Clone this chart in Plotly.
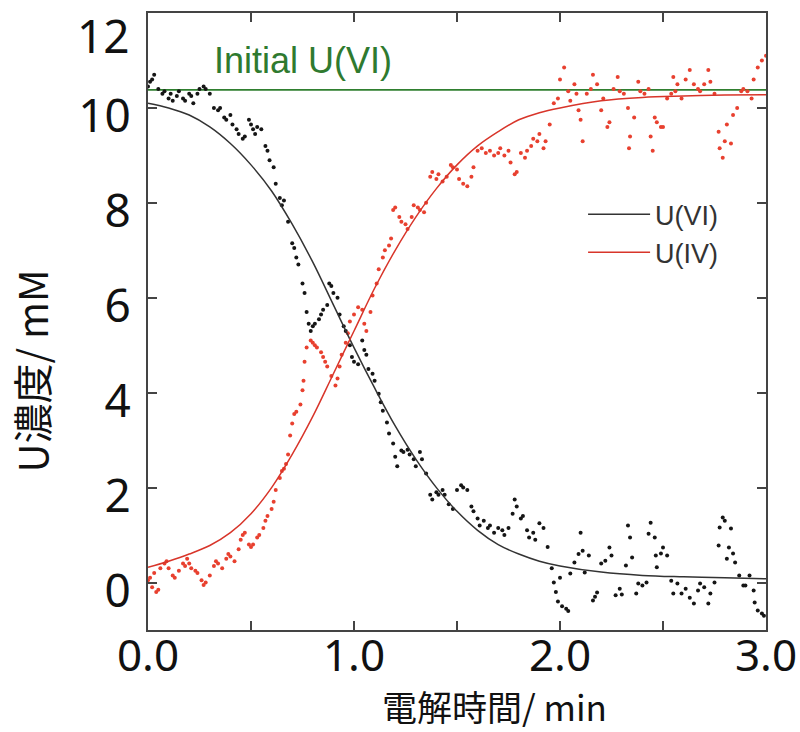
import plotly.graph_objects as go

# ---------------- data ----------------
BLACK_T = [0.00,0.01,0.02,0.03,0.05,0.07,0.08,0.10,0.11,0.12,0.14,0.15,0.17,0.18,0.20,0.21,0.22,0.24,0.25,0.27,
           0.28,0.30,0.32,0.34,0.35,0.37,0.38,0.40,0.41,0.43,0.44,0.46,0.47,0.49,0.50,0.51,0.52,0.53,0.55,0.57,
           0.58,0.59,0.61,0.62,0.64,0.65,0.66,0.68,0.70,0.71,0.72,0.73,0.75,0.76,0.77,0.78,0.79,0.80,0.81,0.83,
           0.84,0.85,0.87,0.88,0.89,0.90,0.92,0.93,0.95,0.96,0.98,0.99,1.00,1.02,1.04,1.05,1.06,1.07,1.09,1.10,
           1.12,1.13,1.14,1.16,1.17,1.19,1.20,1.21,1.23,1.24,1.26,1.27,1.29,1.30,1.32,1.33,1.35,1.37,1.38,1.40,
           1.41,1.43,1.44,1.46,1.48,1.50,1.52,1.53,1.55,1.57,1.58,1.60,1.61,1.63,1.65,1.66,1.68,1.70,1.72,1.73,
           1.75,1.77,1.78,1.79,1.81,1.82,1.84,1.85,1.87,1.88,1.90,1.92,1.94,1.96,1.97,1.98,1.99,2.00,2.01,2.03,
           2.04,2.05,2.07,2.09,2.10,2.11,2.12,2.14,2.16,2.17,2.18,2.20,2.22,2.24,2.25,2.27,2.29,2.30,2.32,2.33,
           2.34,2.35,2.37,2.38,2.40,2.42,2.43,2.44,2.46,2.465,2.47,2.49,2.50,2.52,2.54,2.55,2.57,2.59,2.61,2.63,
           2.65,2.67,2.68,2.70,2.72,2.73,2.75,2.77,2.775,2.79,2.80,2.81,2.82,2.83,2.84,2.85,2.87,2.89,2.90,2.92,
           2.94,2.945,2.96,2.98,2.99]
BLACK_C = [10.45,10.55,10.6,10.7,10.4,10.3,10.35,10.2,10.3,10.15,10.25,10.35,10.2,10.15,10.3,10.25,10.1,10.3,10.4,10.45,
           10.4,10.3,10.0,9.95,10.0,9.8,9.75,9.85,9.65,9.55,9.45,9.35,9.4,9.75,9.65,9.55,9.45,9.6,9.55,9.2,
           9.1,8.9,8.75,8.4,8.1,7.95,8.05,7.6,7.15,7.05,6.85,6.7,6.3,6.1,5.7,5.45,5.3,5.4,5.45,5.55,
           5.65,5.75,5.85,6.3,6.25,6.1,6.0,5.65,5.4,5.3,5.0,4.75,4.65,4.6,5.1,4.9,4.8,4.5,4.4,4.25,
           3.98,3.8,3.62,3.37,3.14,2.93,2.65,2.45,2.78,2.75,2.8,2.7,2.6,2.45,2.75,2.6,2.3,1.85,1.75,1.9,
           1.85,1.95,1.85,1.65,1.55,1.95,2.05,2.0,1.95,1.6,1.5,1.35,1.2,1.3,1.15,1.2,1.05,1.15,1.1,1.0,
           1.15,1.45,1.75,1.6,1.35,1.4,1.1,0.95,1.05,0.9,1.25,1.15,0.75,0.3,0.0,-0.2,-0.4,0.1,-0.5,-0.55,
           -0.6,0.19,0.42,0.6,1.05,0.67,0.21,0.57,-0.38,-0.3,-0.21,0.4,0.46,0.74,0.57,-0.27,-0.13,-0.25,0.36,1.2,
           0.95,0.53,-0.23,-0.02,-0.06,0.0,1.03,1.26,0.95,0.57,0.32,0.61,0.74,0.57,0.04,-0.23,-0.02,-0.23,-0.13,-0.32,
           -0.44,-0.17,-0.02,-0.1,-0.44,-0.23,0.0,0.78,1.16,1.37,1.3,0.5,0.74,1.14,0.61,0.42,0.15,-0.06,-0.06,0.15,
           -0.17,-0.42,-0.59,-0.65,-0.7]

RED_T = [0.00,0.01,0.02,0.03,0.04,0.05,0.06,0.08,0.09,0.10,0.12,0.13,0.15,0.17,0.18,0.19,0.20,0.21,0.23,0.24,
         0.26,0.27,0.28,0.30,0.32,0.33,0.34,0.36,0.38,0.39,0.40,0.42,0.44,0.45,0.46,0.47,0.49,0.50,0.51,0.53,
         0.54,0.56,0.57,0.58,0.60,0.61,0.62,0.64,0.65,0.66,0.67,0.68,0.69,0.70,0.71,0.72,0.74,0.75,0.755,0.76,
         0.77,0.79,0.80,0.81,0.82,0.84,0.85,0.86,0.87,0.89,0.91,0.92,0.93,0.94,0.96,0.97,0.98,1.00,1.02,1.04,
         1.05,1.06,1.08,1.09,1.11,1.12,1.14,1.15,1.17,1.18,1.19,1.20,1.22,1.23,1.25,1.26,1.28,1.29,1.31,1.32,
         1.34,1.35,1.37,1.38,1.40,1.41,1.43,1.45,1.47,1.48,1.50,1.51,1.53,1.55,1.57,1.58,1.60,1.62,1.64,1.66,
         1.68,1.70,1.71,1.73,1.75,1.76,1.78,1.79,1.81,1.83,1.84,1.86,1.87,1.89,1.90,1.92,1.93,1.95,1.97,1.99,
         2.00,2.02,2.04,2.05,2.07,2.08,2.09,2.10,2.11,2.13,2.15,2.16,2.18,2.20,2.21,2.23,2.24,2.26,2.28,2.29,
         2.31,2.33,2.335,2.34,2.36,2.38,2.39,2.41,2.43,2.44,2.45,2.46,2.47,2.49,2.50,2.52,2.54,2.55,2.56,2.57,
         2.59,2.61,2.63,2.65,2.67,2.68,2.70,2.72,2.73,2.75,2.77,2.775,2.79,2.80,2.81,2.83,2.84,2.86,2.88,2.89,
         2.91,2.93,2.94,2.96,2.98,3.00]
RED_C = [0.05,0.1,-0.1,0.2,-0.2,-0.15,0.3,0.4,0.45,0.3,0.15,0.1,0.25,0.4,0.35,0.5,0.4,0.3,0.25,0.2,
         0.05,-0.05,0.0,0.15,0.35,0.45,0.4,0.3,0.5,0.6,0.55,0.45,0.7,0.9,1.0,1.05,0.8,0.75,0.8,0.95,
         1.0,1.15,1.3,1.4,1.55,1.7,1.95,2.2,2.35,2.4,2.5,2.7,3.1,3.35,3.55,3.6,3.75,4.05,4.25,4.65,
         4.95,5.1,5.05,5.0,4.95,4.85,4.75,4.65,4.55,4.35,4.15,4.3,4.55,4.8,5.05,5.25,5.5,5.65,5.8,5.75,
         5.45,5.3,5.7,6.05,6.3,6.6,6.85,7.0,7.1,7.25,7.85,7.9,7.7,7.6,7.55,7.45,7.7,7.95,7.9,7.85,
         7.8,8.0,8.55,8.65,8.5,8.6,8.45,8.55,8.8,8.75,8.7,8.5,8.4,8.35,8.55,8.75,9.1,9.15,9.05,9.1,
         9.0,9.05,9.15,9.0,9.1,8.85,8.6,8.65,9.05,8.95,9.1,9.2,9.35,9.3,9.45,9.15,9.3,9.65,10.1,10.2,
         10.6,10.85,10.35,10.15,10.5,10.3,9.95,9.75,9.3,10.3,10.4,10.7,10.5,9.95,10.2,9.6,9.7,10.4,10.65,10.35,
         10.3,10.0,9.15,9.4,9.8,10.55,10.35,10.3,10.4,9.4,9.1,9.8,9.7,9.6,9.6,10.2,10.3,10.65,10.35,10.5,
         10.2,10.6,10.8,10.5,10.4,10.35,10.5,10.8,10.55,10.3,9.5,9.15,8.95,9.3,9.65,9.25,9.85,10.0,10.35,10.4,
         10.35,10.2,10.6,10.85,11.0,11.1]

FIT_T = [0.0,0.1,0.2,0.3,0.4,0.5,0.6,0.7,0.8,0.9,1.0,1.1,1.2,1.3,1.4,1.5,1.6,1.7,1.8,1.9,
         2.0,2.2,2.4,2.6,2.8,3.0]
FIT_U6 = [10.1,10.0,9.85,9.6,9.25,8.8,8.25,7.55,6.75,5.85,4.95,4.1,3.3,2.6,2.0,1.5,1.1,0.8,0.6,0.45,
          0.35,0.22,0.15,0.12,0.1,0.08]
FIT_U4 = [0.32,0.45,0.6,0.78,1.05,1.45,2.0,2.7,3.5,4.4,5.3,6.2,7.0,7.7,8.3,8.8,9.2,9.5,9.75,9.9,
          10.0,10.15,10.22,10.25,10.27,10.28]

INITIAL_U6 = 10.38
T_RANGE = [0.0, 3.0]
Y_RANGE = [-1, 12]

X_TICKS = [0, 0.5, 1.0, 1.5, 2.0, 2.5, 3.0]
X_TICKTEXT = ["0.0", "", "1.0", "", "2.0", "", "3.0"]
Y_TICKS = [0, 2, 4, 6, 8, 10, 12]
Y_TICKTEXT = ["0", "2", "4", "6", "8", "10", ""]   # top label "12" drawn below the frame edge
Y_TOP_LABEL = "12"

SERIES_NAMES = ["U(VI)", "U(IV)"]
X_TITLE = "電解時間/ min"
Y_TITLE = "U濃度/ mM"
INITIAL_LABEL = "Initial U(VI)"

# ---------------- figure ----------------
fig = go.Figure()

fig.add_trace(go.Scatter(x=T_RANGE, y=[INITIAL_U6, INITIAL_U6], mode="lines",
                         line=dict(color="#2f7f2f", width=1.6), showlegend=False, hoverinfo="skip"))

fig.add_trace(go.Scatter(x=BLACK_T, y=BLACK_C, mode="markers",
                         marker=dict(color="#151515", size=4), showlegend=False))
fig.add_trace(go.Scatter(x=RED_T, y=RED_C, mode="markers",
                         marker=dict(color="#e8402f", size=4), showlegend=False))

fig.add_trace(go.Scatter(x=FIT_T, y=FIT_U6, mode="lines", name=SERIES_NAMES[0],
                         line=dict(color="#333333", width=1.5, shape="spline")))
fig.add_trace(go.Scatter(x=FIT_T, y=FIT_U4, mode="lines", name=SERIES_NAMES[1],
                         line=dict(color="#d8352a", width=1.5, shape="spline")))

axis_common = dict(showline=True, linecolor="#444444", linewidth=2, mirror="ticks",
                   ticks="inside", ticklen=9, tickwidth=1.5, tickcolor="#444444",
                   showgrid=False, zeroline=False, ticklabeloverflow="allow", automargin=False)

TICK_FONT = dict(family="Noto Sans", size=46, color="#111111")
X_TICK_FONT = dict(family="Noto Sans", size=44, color="#111111")

fig.update_xaxes(range=T_RANGE, tickvals=X_TICKS, ticktext=X_TICKTEXT,
                 tickfont=X_TICK_FONT, ticklabelstandoff=-14, **axis_common)
fig.update_yaxes(range=Y_RANGE, tickvals=Y_TICKS, ticktext=Y_TICKTEXT,
                 tickfont=TICK_FONT, ticklabelstandoff=6, ticklabelshift=8, **axis_common)

# top y label, set a little below the frame corner as in the original
fig.add_annotation(x=0, y=Y_RANGE[1], xref="paper", yref="y", text=Y_TOP_LABEL, showarrow=False,
                   xanchor="right", yanchor="middle", xshift=-16, yshift=-22, font=TICK_FONT)

fig.add_annotation(x=0.56, y=-0.123, xref="paper", yref="paper", text=X_TITLE, showarrow=False,
                   yanchor="middle", font=dict(family="Noto Sans CJK JP", size=35, color="#111111"))
fig.add_annotation(x=-0.19, y=0.42, xref="paper", yref="paper", text=Y_TITLE, showarrow=False,
                   textangle=-90, xanchor="center",
                   font=dict(family="Noto Sans CJK JP", size=40, color="#111111"))

fig.add_annotation(x=0.75, y=11.0, xref="x", yref="y", text=INITIAL_LABEL, showarrow=False,
                   font=dict(family="Liberation Sans", size=36, color="#2f7a2f"))

fig.update_layout(
    width=800, height=732,
    margin=dict(l=148, r=34, t=13, b=102, autoexpand=False),
    paper_bgcolor="white", plot_bgcolor="white",
    legend=dict(x=0.704, y=0.713, xanchor="left", yanchor="top",
                font=dict(family="Liberation Sans", size=27, color="#333333"),
                bgcolor="rgba(0,0,0,0)", tracegroupgap=0, itemwidth=62),
)

fig.write_html("out.html")
